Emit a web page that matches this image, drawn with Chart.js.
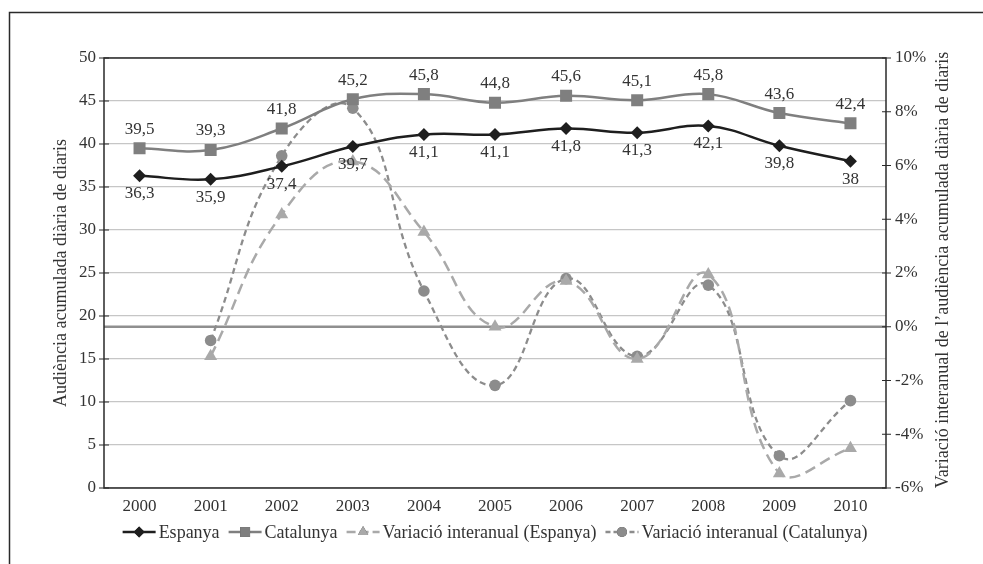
<!DOCTYPE html>
<html><head><meta charset="utf-8">
<script src="https://cdn.jsdelivr.net/npm/chart.js@4.4.0/dist/chart.umd.min.js"></script>
<style>html,body{margin:0;padding:0;background:#fff}</style>
</head><body>
<canvas id="c" width="983" height="564" style="width:983px;height:564px;display:block"></canvas>
<script>
const years = ['2000','2001','2002','2003','2004','2005','2006','2007','2008','2009','2010'];
const espanya = [36.3, 35.9, 37.4, 39.7, 41.1, 41.1, 41.8, 41.3, 42.1, 39.8, 38];
const catalunya = [39.5, 39.3, 41.8, 45.2, 45.8, 44.8, 45.6, 45.1, 45.8, 43.6, 42.4];
const varEspanya = [null, -1.1, 4.18, 6.15, 3.53, 0, 1.70, -1.20, 1.94, -5.46, -4.52];
const varCatalunya = [null, -0.51, 6.36, 8.13, 1.33, -2.18, 1.79, -1.10, 1.55, -4.80, -2.75];
const seriesNames = ['Espanya', 'Catalunya', 'Variació interanual (Espanya)', 'Variació interanual (Catalunya)'];
const leftTitle = 'Audiència acumulada diària de diaris';
const rightTitle = 'Variació interanual de l’audiència acumulada diària de diaris';
const leftMin = 0, leftMax = 50, leftStep = 5;
const rightMin = -6, rightMax = 10, rightStep = 2;

const FONT = '"Liberation Serif", "DejaVu Serif", serif';
const TXT = '#333333';
const COLORS = ['#1e1e1e', '#7f7f7f', '#a9a9a9', '#8c8c8c'];
const fmt = v => String(v).replace('.', ',');

const deco = {
  id: 'deco',
  beforeDraw(chart) {
    const ctx = chart.ctx;
    ctx.save();
    ctx.fillStyle = '#fff';
    ctx.fillRect(0, 0, chart.width, chart.height);
    ctx.strokeStyle = '#2a2a2a';
    ctx.lineWidth = 1.5;
    ctx.beginPath();
    ctx.moveTo(9.5, chart.height);
    ctx.lineTo(9.5, 12.5);
    ctx.lineTo(chart.width, 12.5);
    ctx.stroke();
    ctx.restore();
  },
  beforeDatasetsDraw(chart) {
    const ctx = chart.ctx, a = chart.chartArea;
    const y0 = chart.scales.y1.getPixelForValue(0);
    ctx.save();
    ctx.strokeStyle = '#8f8f8f';
    ctx.lineWidth = 2.5;
    ctx.beginPath();
    ctx.moveTo(a.left, y0);
    ctx.lineTo(a.right, y0);
    ctx.stroke();
    ctx.restore();
  },
  afterDatasetsDraw(chart) {
    const ctx = chart.ctx, a = chart.chartArea;
    ctx.save();
    ctx.strokeStyle = '#2a2a2a';
    ctx.lineWidth = 1.5;
    ctx.strokeRect(a.left, a.top, a.right - a.left, a.bottom - a.top);
    ctx.lineWidth = 1.2;
    const y = chart.scales.y, y1 = chart.scales.y1;
    ctx.beginPath();
    y.ticks.forEach(t => { const p = y.getPixelForValue(t.value); ctx.moveTo(a.left - 5, p); ctx.lineTo(a.left + 5, p); });
    y1.ticks.forEach(t => { const p = y1.getPixelForValue(t.value); ctx.moveTo(a.right - 4, p); ctx.lineTo(a.right + 5, p); });
    ctx.stroke();
    ctx.fillStyle = TXT;
    ctx.font = '17px ' + FONT;
    ctx.textAlign = 'center';
    ctx.textBaseline = 'middle';
    const m0 = chart.getDatasetMeta(0), m1 = chart.getDatasetMeta(1);
    m0.data.forEach((pt, i) => ctx.fillText(fmt(espanya[i]), pt.x, pt.y + 18));
    m1.data.forEach((pt, i) => ctx.fillText(fmt(catalunya[i]), pt.x, pt.y - 19));
    ctx.restore();
  },
  afterDraw(chart) {
    const ctx = chart.ctx, a = chart.chartArea;
    ctx.save();
    ctx.fillStyle = TXT;
    ctx.font = '18px ' + FONT;
    ctx.textAlign = 'center';
    ctx.textBaseline = 'middle';
    const cy = (a.top + a.bottom) / 2;
    ctx.save(); ctx.translate(61, cy); ctx.rotate(-Math.PI / 2); ctx.fillText(leftTitle, 0, 0); ctx.restore();
    ctx.save(); ctx.translate(943, cy - 3); ctx.rotate(-Math.PI / 2); ctx.fillText(rightTitle, 0, 0); ctx.restore();
    const styles = ['rectRot', 'rect', 'triangle', 'circle'];
    const radii = [5.5, 7, 6, 5];
    const dashes = [[], [], [9, 4], [5, 3]];
    const symW = 33, gapST = 3, gapItem = 9;
    const widths = seriesNames.map(n => symW + gapST + ctx.measureText(n).width);
    const total = widths.reduce((s, w) => s + w, 0) + gapItem * (seriesNames.length - 1);
    let x = (a.left + a.right) / 2 - total / 2;
    const ly = 532;
    seriesNames.forEach((n, i) => {
      ctx.save();
      ctx.strokeStyle = COLORS[i];
      ctx.lineWidth = 2.3;
      ctx.setLineDash(dashes[i]);
      ctx.beginPath(); ctx.moveTo(x, ly); ctx.lineTo(x + symW, ly); ctx.stroke();
      ctx.setLineDash([]);
      Chart.helpers.drawPoint(ctx, { pointStyle: styles[i], radius: radii[i], borderWidth: 0, rotation: 0 }, x + symW / 2, ly);
      ctx.fillStyle = COLORS[i];
      ctx.fill();
      ctx.restore();
      ctx.fillStyle = TXT;
      ctx.textAlign = 'left';
      ctx.fillText(n, x + symW + gapST, ly + 1);
      x += widths[i] + gapItem;
    });
    ctx.restore();
  }
};

new Chart(document.getElementById('c'), {
  type: 'line',
  data: {
    labels: years,
    datasets: [
      { label: seriesNames[0], data: espanya, yAxisID: 'y', borderColor: COLORS[0], backgroundColor: COLORS[0], borderWidth: 2.5, pointStyle: 'rectRot', pointRadius: 6.5, pointBorderWidth: 0, tension: 0.4 },
      { label: seriesNames[1], data: catalunya, yAxisID: 'y', borderColor: COLORS[1], backgroundColor: COLORS[1], borderWidth: 2.5, pointStyle: 'rect', pointRadius: 8.5, pointBorderWidth: 0, tension: 0.4 },
      { label: seriesNames[2], data: varEspanya, yAxisID: 'y1', borderColor: COLORS[2], backgroundColor: COLORS[2], borderWidth: 2.5, borderDash: [11, 6], pointStyle: 'triangle', pointRadius: 7.5, pointBorderWidth: 0, tension: 0.45 },
      { label: seriesNames[3], data: varCatalunya, yAxisID: 'y1', borderColor: COLORS[3], backgroundColor: COLORS[3], borderWidth: 2.3, borderDash: [6, 4], pointStyle: 'circle', pointRadius: 5.8, pointBorderWidth: 0, tension: 0.45 }
    ]
  },
  options: {
    responsive: false,
    animation: false,
    devicePixelRatio: 1,
    layout: { padding: { top: 58, left: 0, right: 0, bottom: 0 } },
    plugins: { legend: { display: false }, tooltip: { enabled: false } },
    scales: {
      x: {
        offset: true,
        grid: { display: false, drawTicks: false },
        border: { display: false },
        ticks: { color: TXT, font: { family: FONT, size: 17 }, padding: 8, maxRotation: 0 },
        afterFit: s => { s.height = 76; }
      },
      y: {
        position: 'left', min: leftMin, max: leftMax,
        grid: { color: '#c6c6c6', lineWidth: 1.2, drawTicks: false },
        border: { display: false },
        ticks: { stepSize: leftStep, color: TXT, font: { family: FONT, size: 17 }, padding: 8 },
        afterFit: s => { s.width = 104; }
      },
      y1: {
        position: 'right', min: rightMin, max: rightMax,
        grid: { display: false, drawTicks: false },
        border: { display: false },
        ticks: { stepSize: rightStep, color: TXT, font: { family: FONT, size: 17 }, padding: 9, callback: v => v + '%' },
        afterFit: s => { s.width = 97; }
      }
    }
  },
  plugins: [deco]
});
</script>
</body></html>
